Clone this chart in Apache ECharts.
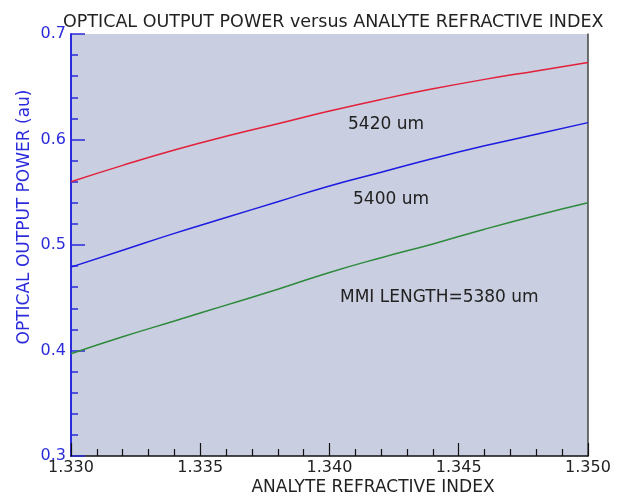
<!DOCTYPE html>
<html>
<head>
<meta charset="utf-8">
<style>
    html, body { margin: 0; padding: 0; background: #fff; }
    #chart { width: 624px; height: 500px; }
</style>
<script src="https://cdn.jsdelivr.net/npm/echarts@6/dist/echarts.min.js"></script>
</head>
<body>
<div id="chart"></div>
<script>
// 折射率 (x)
const refractiveIndex = [1.330, 1.332, 1.334, 1.336, 1.338, 1.340, 1.342, 1.344, 1.346, 1.348, 1.350];
// 各 MMI 长度下的输出功率
const power5420 = [0.560, 0.5755, 0.590, 0.603, 0.615, 0.627, 0.638, 0.648, 0.657, 0.665, 0.673];
const power5400 = [0.479, 0.495, 0.511, 0.526, 0.541, 0.556, 0.569, 0.582, 0.594, 0.605, 0.616];
const power5380 = [0.397, 0.413, 0.428, 0.443, 0.458, 0.474, 0.488, 0.501, 0.515, 0.528, 0.540];
const curveLabels = ["5420 um", "5400 um", "MMI LENGTH=5380 um"];

(function () {
    let chart = echarts.init(document.querySelector("#chart"));

    const font = "DejaVu Sans";
    const blue = "#2b2bdc";

    function pairs(ys) {
        return refractiveIndex.map((x, i) => [x, ys[i]]);
    }

    function line(name, ys, color) {
        return {
            name: name,
            type: "line",
            data: pairs(ys),
            smooth: true,
            symbol: "none",
            lineStyle: { color: color, width: 1.5 },
            z: 3
        };
    }

    let option = {
        animation: false,
        textStyle: { fontFamily: font },
        title: {
            text: "OPTICAL OUTPUT POWER versus ANALYTE REFRACTIVE INDEX",
            left: 58,
            top: 8,
            textStyle: { fontFamily: font, fontSize: 17.5, fontWeight: "normal", color: "#222" }
        },
        grid: {
            left: 71, right: 36, top: 34, bottom: 44,
            show: true,
            backgroundColor: "#c9cee0",
            borderWidth: 0
        },
        xAxis: {
            type: "value",
            min: 1.330,
            max: 1.350,
            interval: 0.005,
            axisLine: { onZero: false, lineStyle: { color: "#111", width: 1.5 } },
            axisTick: { inside: true, length: 13, lineStyle: { color: "#111", width: 1.2 } },
            minorTick: { show: true, splitNumber: 5, length: 7, lineStyle: { color: "#111", width: 1.2 } },
            splitLine: { show: false },
            axisLabel: {
                margin: 4,
                color: "#222",
                fontSize: 16,
                fontFamily: font,
                formatter: v => v.toFixed(3)
            }
        },
        yAxis: [
            {
                type: "value",
                min: 0.3,
                max: 0.7,
                interval: 0.1,
                axisLine: { show: true, onZero: false, lineStyle: { color: blue, width: 2 } },
                axisTick: { show: true, inside: true, length: 14, lineStyle: { color: blue, width: 1.5 } },
                minorTick: { show: true, splitNumber: 5, length: 7, lineStyle: { color: blue, width: 1.5 } },
                splitLine: { show: false },
                axisLabel: {
                    margin: 5,
                    color: blue,
                    fontSize: 16,
                    fontFamily: font,
                    formatter: v => v.toFixed(1)
                }
            },
            {
                type: "value",
                position: "right",
                min: 0.3,
                max: 0.7,
                interval: 0.1,
                axisLine: { show: true, onZero: false, lineStyle: { color: "#444", width: 1.5 } },
                axisTick: { show: false },
                axisLabel: { show: false },
                splitLine: { show: false }
            }
        ],
        series: [
            line("5420 um", power5420, "#e2203a"),
            line("5400 um", power5400, "#1c1ce0"),
            line("5380 um", power5380, "#2e8a3c")
        ],
        graphic: [
            {
                type: "text",
                x: 373, y: 488,
                style: { text: "ANALYTE REFRACTIVE INDEX", font: "17px " + font, fill: "#222", align: "center", verticalAlign: "middle" }
            },
            {
                type: "text",
                x: 25, y: 217,
                rotation: Math.PI / 2,
                style: { text: "OPTICAL OUTPUT POWER (au)", font: "17px " + font, fill: blue, align: "center", verticalAlign: "middle" }
            },
            {
                type: "text",
                x: 348, y: 125,
                style: { text: curveLabels[0], font: "17px " + font, fill: "#222", verticalAlign: "middle" }
            },
            {
                type: "text",
                x: 353, y: 200,
                style: { text: curveLabels[1], font: "17px " + font, fill: "#222", verticalAlign: "middle" }
            },
            {
                type: "text",
                x: 340, y: 298,
                style: { text: curveLabels[2], font: "17px " + font, fill: "#222", verticalAlign: "middle" }
            }
        ]
    };

    chart.setOption(option);

    window.addEventListener("resize", () => chart.resize());
})();
</script>
</body>
</html>
